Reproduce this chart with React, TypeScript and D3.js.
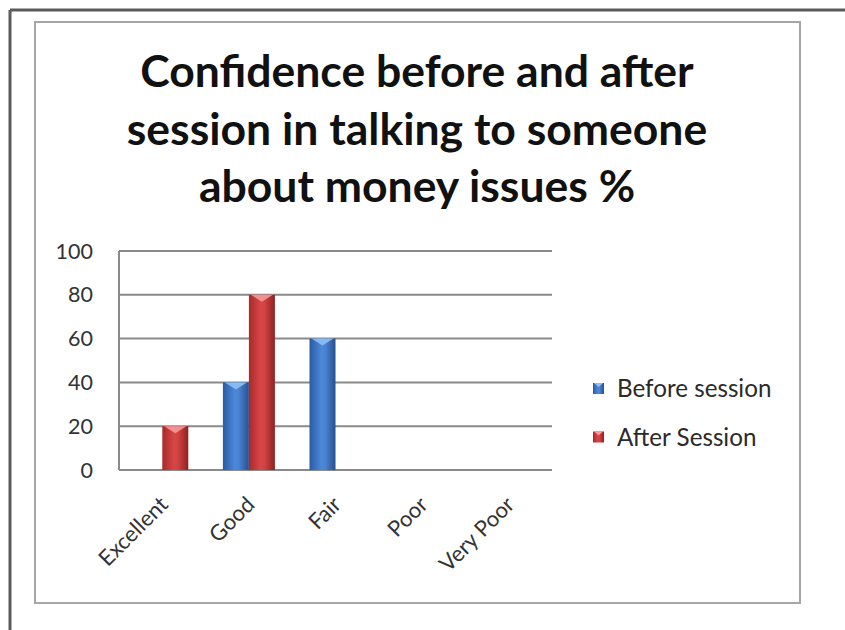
import React from "react";
import * as d3 from "d3";

const categories = ["Excellent", "Good", "Fair", "Poor", "Very Poor"];
const beforeSession = [0, 40, 60, 0, 0];
const afterSession = [20, 80, 0, 0, 0];
const seriesNames = ["Before session", "After Session"];
const yTicks = [0, 20, 40, 60, 80, 100];
const titleLines = [
  "Confidence before and after",
  "session in talking to someone",
  "about money issues %",
];

const W = 845;
const H = 630;
const plot = { left: 119, right: 552, top: 251, bottom: 470 };
const FONT = "Lato, 'Open Sans', sans-serif";

export default function App() {
  const x = d3.scaleBand<string>().domain(categories).range([plot.left, plot.right]).paddingInner(0).paddingOuter(0);
  const inner = d3.scaleBand<string>().domain(seriesNames).range([0, x.bandwidth()]).paddingInner(0).paddingOuter(0.665);
  const y = d3.scaleLinear().domain([0, 100]).range([plot.bottom, plot.top]);
  const series = [
    { name: seriesNames[0], values: beforeSession, grad: "gBlue", tip: "#8fc0f5" },
    { name: seriesNames[1], values: afterSession, grad: "gRed", tip: "#f49a9a" },
  ];
  return (
    <svg width={W} height={H} style={{ position: "absolute", left: 0, top: 0, background: "#fff" }}>
      <defs>
        <linearGradient id="gBlue" x1="0" x2="1" y1="0" y2="0">
          <stop offset="0" stopColor="#2a5aa6" />
          <stop offset="0.45" stopColor="#4b88d8" />
          <stop offset="0.6" stopColor="#4a84d2" />
          <stop offset="1" stopColor="#27508f" />
        </linearGradient>
        <linearGradient id="gRed" x1="0" x2="1" y1="0" y2="0">
          <stop offset="0" stopColor="#a82a2a" />
          <stop offset="0.45" stopColor="#d84646" />
          <stop offset="0.6" stopColor="#d24242" />
          <stop offset="1" stopColor="#8e2222" />
        </linearGradient>
      </defs>
      {/* outer frame */}
      <line x1={10} y1={10} x2={W} y2={10} stroke="#5a5a5a" strokeWidth={3} />
      <line x1={10} y1={10} x2={10} y2={H} stroke="#5a5a5a" strokeWidth={3} />
      {/* chart area box */}
      <rect x={35} y={22} width={765} height={581} fill="#fff" stroke="#a6a6a6" strokeWidth={2} />
      {/* title */}
      {titleLines.map((t, i) => (
        <text key={i} x={417} y={87 + i * 57.5} textAnchor="middle" fontFamily={FONT} fontWeight="bold" fontSize={44.5} fill="#111">
          {t}
        </text>
      ))}
      {/* gridlines */}
      {yTicks.map((t) => (
        <g key={t}>
          <line x1={plot.left} x2={plot.right} y1={y(t)} y2={y(t)} stroke="#8a8a8a" strokeWidth={2} />
          <text x={93} y={y(t) + 7.5} textAnchor="end" fontFamily={FONT} fontSize={21.5} fill="#333">
            {t}
          </text>
        </g>
      ))}
      <line x1={plot.left} x2={plot.left} y1={plot.top} y2={plot.bottom} stroke="#8a8a8a" strokeWidth={2} />
      {/* bars */}
      {series.map((s) =>
        s.values.map((v, i) => {
          if (v <= 0) return null;
          const x0 = (x(categories[i]) as number) + (inner(s.name) as number);
          const w = inner.bandwidth();
          const top = y(v);
          const h = plot.bottom - top;
          return (
            <g key={s.name + i}>
              <rect x={x0} y={top} width={w} height={h} fill={`url(#${s.grad})`} />
              <path d={`M${x0 + 2},${top} L${x0 + w - 2},${top} L${x0 + w / 2},${top + 7} Z`} fill={s.tip} opacity={0.9} />
            </g>
          );
        })
      )}
      {/* x labels */}
      {categories.map((c) => {
        const cx = (x(c) as number) + x.bandwidth() / 2;
        return (
          <text key={c} transform={`translate(${cx + 7},${506}) rotate(-45)`} textAnchor="end" fontFamily={FONT} fontSize={22} fill="#333">
            {c}
          </text>
        );
      })}
      {/* legend */}
      {series.map((s, i) => (
        <g key={s.name} transform={`translate(593,${383 + i * 48.5})`}>
          <rect x={0} y={0} width={11} height={11} fill={`url(#${s.grad})`} />
          <path d="M1,0 L10,0 L5.5,4 Z" fill={s.tip} />
          <text x={24} y={14} fontFamily={FONT} fontSize={24.2} fill="#2a2a2a">
            {s.name}
          </text>
        </g>
      ))}
    </svg>
  );
}
